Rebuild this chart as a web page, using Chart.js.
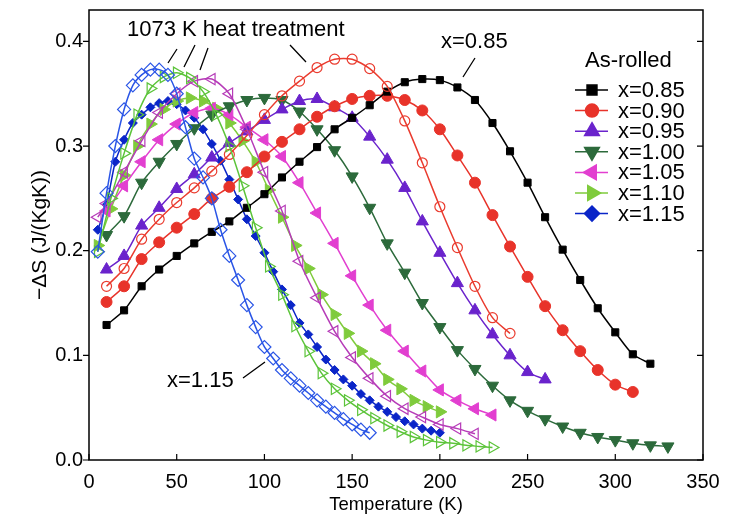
<!DOCTYPE html>
<html>
<head>
<meta charset="utf-8">
<script src="https://cdn.jsdelivr.net/npm/chart.js@4.4.1/dist/chart.umd.min.js"></script>
<style>
  html, body { margin: 0; padding: 0; background: #fff; }
</style>
</head>
<body>
<canvas id="chart" width="743" height="523"></canvas>
<script>
const FONT = '"Liberation Sans", Arial, sans-serif';

// ---- as-rolled samples: temperature (K) and -dS (J/(kg K)) ----
const t085 = [10,20,30,40,50,60,70,80,90,100,110,120,130,140,150,160,170,180,190,200,210,220,230,240,250,260,270,280,290,300,310,320];
const s085 = [0.129,0.143,0.166,0.182,0.195,0.207,0.218,0.228,0.241,0.254,0.270,0.285,0.299,0.316,0.327,0.339,0.352,0.361,0.364,0.363,0.356,0.344,0.322,0.295,0.265,0.232,0.201,0.172,0.145,0.122,0.101,0.092];

const t090 = [10,20,30,40,50,60,70,80,90,100,110,120,130,140,150,160,170,180,190,200,210,220,230,240,250,260,270,280,290,300,310];
const s090 = [0.151,0.166,0.192,0.208,0.222,0.235,0.250,0.261,0.275,0.290,0.304,0.316,0.328,0.338,0.345,0.348,0.348,0.344,0.334,0.316,0.291,0.265,0.234,0.204,0.175,0.147,0.124,0.104,0.086,0.072,0.065];

const t095 = [10,20,30,40,50,60,70,80,90,100,110,120,130,140,150,160,170,180,190,200,210,220,230,240,250,260];
const s095 = [0.182,0.195,0.224,0.241,0.259,0.273,0.289,0.303,0.314,0.325,0.335,0.343,0.345,0.337,0.327,0.309,0.287,0.260,0.228,0.198,0.169,0.143,0.120,0.100,0.084,0.077];

const t100 = [10,20,30,40,50,60,70,80,90,100,110,120,130,140,150,160,170,180,190,200,210,220,230,240,250,260,270,280,290,300,310,320,330];
const s100 = [0.215,0.233,0.265,0.285,0.302,0.317,0.330,0.338,0.344,0.346,0.344,0.333,0.316,0.296,0.271,0.241,0.207,0.179,0.150,0.127,0.105,0.087,0.071,0.057,0.047,0.039,0.032,0.026,0.022,0.019,0.016,0.014,0.013];

const t105 = [10,20,30,40,50,60,70,80,90,100,110,120,130,140,150,160,170,180,190,200,210,220,230];
const s105 = [0.238,0.262,0.285,0.306,0.321,0.332,0.336,0.330,0.318,0.306,0.290,0.265,0.236,0.207,0.176,0.148,0.124,0.104,0.085,0.067,0.057,0.049,0.043];

const t110 = [5,12.5,20,27.5,35,42.5,50,57.5,65,72.5,80,87.5,95,102.5,110,117.5,125,132.5,140,147.5,155,162.5,170,177.5,185,192.5,200];
const s110 = [0.205,0.240,0.272,0.300,0.321,0.335,0.343,0.346,0.343,0.336,0.322,0.305,0.285,0.258,0.232,0.205,0.183,0.158,0.139,0.121,0.104,0.092,0.077,0.068,0.057,0.051,0.046];

const t115 = [5,10,15,20,25,30,35,40,45,50,55,60,65,70,75,80,85,90,95,100,105,110,115,120,125,130,135,140,145,150,155,160,165,170,175,180,185,190,195,200];
const s115 = [0.220,0.244,0.285,0.306,0.322,0.330,0.337,0.341,0.343,0.340,0.334,0.327,0.316,0.302,0.286,0.268,0.249,0.230,0.214,0.198,0.180,0.163,0.148,0.131,0.120,0.108,0.096,0.086,0.077,0.071,0.063,0.057,0.051,0.046,0.041,0.037,0.034,0.030,0.028,0.026];

// ---- 1073 K heat treated samples ----
const tHt090 = [10,20,30,40,50,60,70,80,90,100,110,120,130,140,150,160,170,180,190,200,210,220,230,240];
const sHt090 = [0.166,0.183,0.211,0.230,0.246,0.260,0.276,0.292,0.310,0.330,0.348,0.362,0.375,0.383,0.383,0.374,0.357,0.324,0.284,0.242,0.203,0.166,0.136,0.121];

const tHt105 = [5,10,20,30,40,50,60,70,80,90,100,110,120,130,140,150,160,170,180,190,200,210,220];
const sHt105 = [0.232,0.245,0.275,0.305,0.332,0.350,0.362,0.364,0.350,0.316,0.275,0.238,0.190,0.155,0.123,0.098,0.078,0.061,0.049,0.041,0.034,0.030,0.025];

const tHt110 = [5,12.5,20,27.5,35,42.5,50,57.5,65,72.5,80,87.5,95,102.5,110,117.5,125,132.5,140,147.5,155,162.5,170,177.5,185,192.5,200,207.5,215,222.5,230];
const sHt110 = [0.199,0.250,0.293,0.330,0.355,0.366,0.370,0.365,0.352,0.330,0.300,0.262,0.222,0.185,0.158,0.128,0.104,0.083,0.068,0.057,0.048,0.040,0.033,0.027,0.022,0.019,0.017,0.016,0.014,0.013,0.012];

const tHt115 = [5,10,15,20,25,30,35,40,45,50,55,60,65,70,75,80,85,90,95,100,105,110,115,120,125,130,135,140,145,150,155,160];
const sHt115 = [0.199,0.255,0.300,0.335,0.358,0.368,0.373,0.373,0.368,0.350,0.318,0.288,0.270,0.250,0.220,0.195,0.172,0.148,0.127,0.108,0.097,0.086,0.078,0.071,0.064,0.057,0.051,0.045,0.039,0.034,0.029,0.026];

const xTicks = [0, 50, 100, 150, 200, 250, 300, 350];
const yTicks = [0.0, 0.1, 0.2, 0.3, 0.4];

function pts(t, s) {
  return t.map((x, i) => ({ x: x, y: s[i] }));
}

function series(label, t, s, color, style, rot, r, open, legend, legendR) {
  return {
    label: label,
    data: pts(t, s),
    showLine: true,
    borderColor: color,
    borderWidth: 1.5,
    backgroundColor: open ? 'rgba(0,0,0,0)' : color,
    pointBackgroundColor: open ? 'rgba(0,0,0,0)' : color,
    pointBorderColor: color,
    pointBorderWidth: open ? 1.2 : 1,
    pointStyle: style,
    rotation: rot,
    pointRadius: r,
    pointHoverRadius: r,
    tension: 0.25,
    inLegend: legend,
    legendRadius: legendR || r
  };
}

const datasets = [
  series('x=1.15', tHt115, sHt115, '#2a55e6', 'rectRot', 0, 6.5, true, false),
  series('x=1.10', tHt110, sHt110, '#5cc43a', 'triangle', 90, 6.5, true, false),
  series('x=1.05', tHt105, sHt105, '#b63bb8', 'triangle', 270, 6.5, true, false),
  series('x=0.90', tHt090, sHt090, '#ea3b2e', 'circle', 0, 5, true, false),
  series('x=0.85', t085, s085, '#000000', 'rect', 0, 5, false, true, 7),
  series('x=0.90', t090, s090, '#e8332a', 'circle', 0, 5.5, false, true, 6.5),
  series('x=0.95', t095, s095, '#6a23cc', 'triangle', 0, 7, false, true, 8.5),
  series('x=1.00', t100, s100, '#2c6a3b', 'triangle', 180, 7, false, true, 8.5),
  series('x=1.05', t105, s105, '#e23fd0', 'triangle', 270, 7, false, true, 8.5),
  series('x=1.10', t110, s110, '#7fcb3c', 'triangle', 90, 7, false, true, 8.5),
  series('x=1.15', t115, s115, '#0a25c8', 'rectRot', 0, 4.5, false, true, 7.5)
];

const legendOrder = ['#000000', '#e8332a', '#6a23cc', '#2c6a3b', '#e23fd0', '#7fcb3c', '#0a25c8'];

const decorations = {
  id: 'decorations',
  afterDraw(chart) {
    const ctx = chart.ctx;
    const a = chart.chartArea;
    const xs = chart.scales.x, ys = chart.scales.y;
    ctx.save();
    // frame
    ctx.strokeStyle = '#000';
    ctx.lineWidth = 1.5;
    ctx.strokeRect(a.left, a.top, a.right - a.left, a.bottom - a.top);
    // ticks
    ctx.lineWidth = 1.2;
    ctx.beginPath();
    xTicks.forEach(v => {
      const px = xs.getPixelForValue(v);
      ctx.moveTo(px, a.bottom); ctx.lineTo(px, a.bottom - 6);
    });
    yTicks.forEach(v => {
      const py = ys.getPixelForValue(v);
      ctx.moveTo(a.left - 6, py); ctx.lineTo(a.left, py);
      ctx.moveTo(a.right, py); ctx.lineTo(a.right - 6, py);
    });
    ctx.stroke();

    // annotations
    ctx.fillStyle = '#000';
    ctx.font = '22px ' + FONT;
    ctx.textBaseline = 'middle';
    ctx.textAlign = 'left';
    ctx.fillText('1073 K heat treatment', 127, 30);
    ctx.fillText('x=0.85', 441, 42);
    ctx.fillText('x=1.15', 167, 381);
    ctx.lineWidth = 1.3;
    ctx.beginPath();
    ctx.moveTo(177, 49); ctx.lineTo(168, 63);
    ctx.moveTo(195, 45); ctx.lineTo(184, 67);
    ctx.moveTo(208, 48); ctx.lineTo(200, 70);
    ctx.moveTo(290, 45); ctx.lineTo(306, 62);
    ctx.moveTo(475, 58); ctx.lineTo(463, 77);
    ctx.moveTo(243, 378); ctx.lineTo(265, 362);
    ctx.stroke();

    // legend
    ctx.fillText('As-rolled', 585, 61);
    const items = chart.data.datasets.filter(d => d.inLegend);
    items.sort((p, q) => legendOrder.indexOf(p.borderColor) - legendOrder.indexOf(q.borderColor));
    items.forEach((d, i) => {
      const y = 90 + i * 20.6;
      ctx.strokeStyle = d.borderColor;
      ctx.lineWidth = 1.5;
      ctx.beginPath();
      ctx.moveTo(575, y); ctx.lineTo(608, y);
      ctx.stroke();
      ctx.fillStyle = d.borderColor;
      Chart.helpers.drawPoint(ctx, {
        pointStyle: d.pointStyle, rotation: d.rotation,
        radius: d.legendRadius, borderWidth: 1
      }, 592, y);
      ctx.fillStyle = '#000';
      ctx.fillText(d.label, 618, y + 1);
    });
    ctx.restore();
  }
};

new Chart(document.getElementById('chart'), {
  type: 'scatter',
  data: { datasets: datasets },
  options: {
    responsive: false,
    animation: false,
    devicePixelRatio: 1,
    layout: { padding: { top: 10, right: 40, left: 0, bottom: 0 } },
    plugins: { legend: { display: false }, tooltip: { enabled: false } },
    scales: {
      x: {
        type: 'linear', min: 0, max: 350,
        grid: { display: false, drawTicks: false },
        border: { display: false },
        afterBuildTicks: s => { s.ticks = xTicks.map(v => ({ value: v })); },
        afterFit: s => { s.height = 63; s.paddingLeft = 0; s.paddingRight = 0; },
        ticks: { color: '#000', font: { family: FONT, size: 20 }, padding: 10, maxRotation: 0 },
        title: { display: true, text: 'Temperature (K)', color: '#000',
                 font: { family: FONT, size: 18.5 }, padding: { top: 0, bottom: 7 } }
      },
      y: {
        type: 'linear', min: 0, max: 0.43,
        grid: { display: false, drawTicks: false },
        border: { display: false },
        afterBuildTicks: s => { s.ticks = yTicks.map(v => ({ value: v })); },
        afterFit: s => { s.width = 89; s.paddingTop = 0; s.paddingBottom = 0; },
        ticks: { color: '#000', font: { family: FONT, size: 20 }, padding: 6,
                 callback: v => v.toFixed(1) },
        title: { display: true, text: '\u2212\u0394S (J/(KgK))', color: '#000',
                 font: { family: FONT, size: 21 }, padding: { top: 28, bottom: 0 } }
      }
    }
  },
  plugins: [decorations]
});
</script>
</body>
</html>
